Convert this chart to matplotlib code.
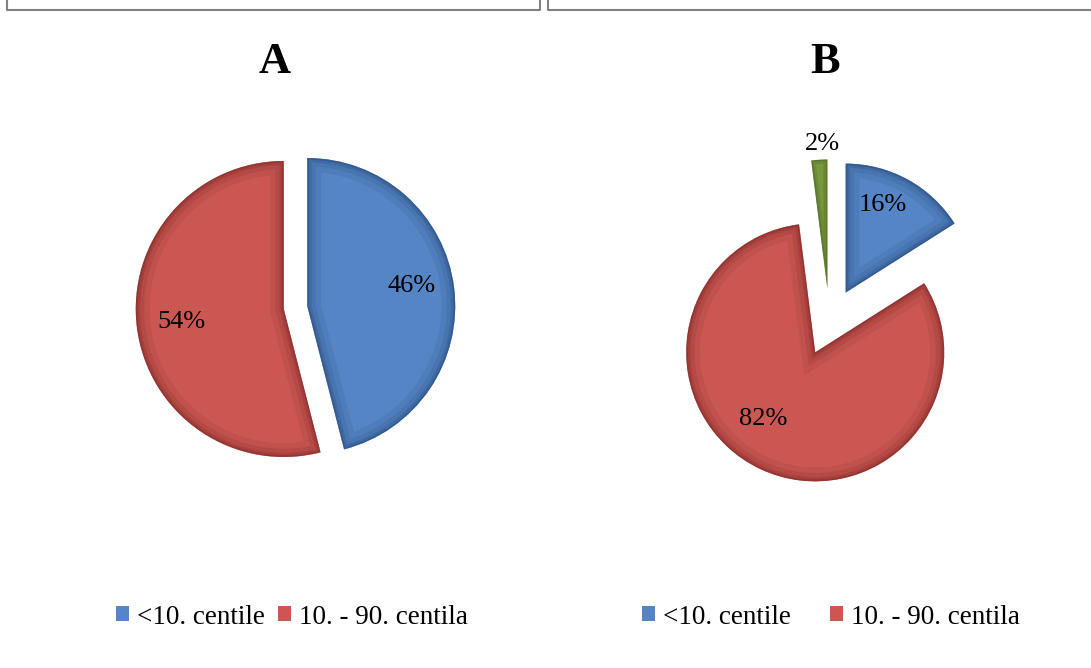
import matplotlib
matplotlib.use("Agg")
import matplotlib.pyplot as plt
from matplotlib.patches import Wedge
import numpy as np

# data
categories = ["<10. centile", "10. - 90. centila", ">90. centile"]
values_a = [46, 54]
values_b = [16, 82, 2]
colors = ["#5585C5", "#CB5753", "#8AAE4B"]
darks = ["#1F3F6E", "#6E1E1C", "#3D5418"]

W, H = 1091, 668
plt.rcParams["font.family"] = ["Liberation Serif", "DejaVu Serif"]

fig = plt.figure(figsize=(W / 100, H / 100), dpi=100)
ax = fig.add_axes([0, 0, 1, 1])


def bevel(wedges, dark_cols):
    # fake the 3D bevel look with soft darker strokes clipped inside each slice
    for w, dc in zip(wedges, dark_cols):
        for lw, a in [(20, 0.10), (12, 0.14), (6, 0.20), (2.5, 0.32)]:
            p = Wedge(w.center, w.r, w.theta1, w.theta2, fill=False,
                      edgecolor=dc, lw=lw, alpha=a)
            ax.add_patch(p)
            p.set_clip_path(w)


lbl = dict(fontsize=19, color="black")

# panel A (explode is in data units here, radius is in pixels)
ra = 148
wa, ta, pa = ax.pie(values_a, colors=colors[:2], explode=[0.08 * ra] * 2,
                    startangle=90, counterclock=False, radius=ra,
                    center=(295.5, H - 307.5), autopct="%.0f%%",
                    pctdistance=0.7, textprops=lbl,
                    wedgeprops=dict(linewidth=0))
bevel(wa, darks[:2])
pos = pa[0].get_position()
pa[0].set_position((pos[0] + 2, pos[1] + 7))

# panel B
rb = 129
wb, tb, pb = ax.pie(values_b, colors=colors, explode=[0.26 * rb] * 3,
                    startangle=90, counterclock=False, radius=rb,
                    center=(829.5, H - 322), autopct="%.0f%%",
                    pctdistance=0.7, textprops=lbl,
                    wedgeprops=dict(linewidth=0))
bevel(wb, darks)

# small slice label sits outside
g = wb[2]
mid = np.deg2rad((g.theta1 + g.theta2) / 2)
pb[2].set_position((g.center[0] + 1.14 * g.r * np.cos(mid) + 4,
                    g.center[1] + 1.14 * g.r * np.sin(mid) - 2))
pos = pb[0].get_position()
pb[0].set_position((pos[0] - 6, pos[1] + 8))
pos = pb[1].get_position()
pb[1].set_position((pos[0] - 14, pos[1] + 15))

# titles
ax.text(275, H - 62, "A", ha="center", va="center", fontsize=32, fontweight="bold")
ax.text(825, H - 62, "B", ha="center", va="center", fontsize=32, fontweight="bold")

# panel frames
ax.plot([7, 7, 540, 540], [H, H - 10, H - 10, H], color="#808080", lw=1.5)
ax.plot([548, 548, W + 5], [H, H - 10, H - 10], color="#808080", lw=1.5)

# legends
leg_kw = dict(loc="center", ncol=2, frameon=False, fontsize=19.5,
              handlelength=0.47, handleheight=0.47, handletextpad=0.3,
              bbox_transform=ax.transData, borderpad=0)
leg_a = ax.legend(wa, categories[:2], bbox_to_anchor=(292, H - 617),
                  columnspacing=0.5, **leg_kw)
ax.add_artist(leg_a)
ax.legend(wb[:2], categories[:2], bbox_to_anchor=(831, H - 617),
          columnspacing=1.45, **leg_kw)

ax.set_aspect("auto")
ax.set_xlim(0, W)
ax.set_ylim(0, H)
ax.axis("off")

fig.savefig("out.png", dpi=100)
